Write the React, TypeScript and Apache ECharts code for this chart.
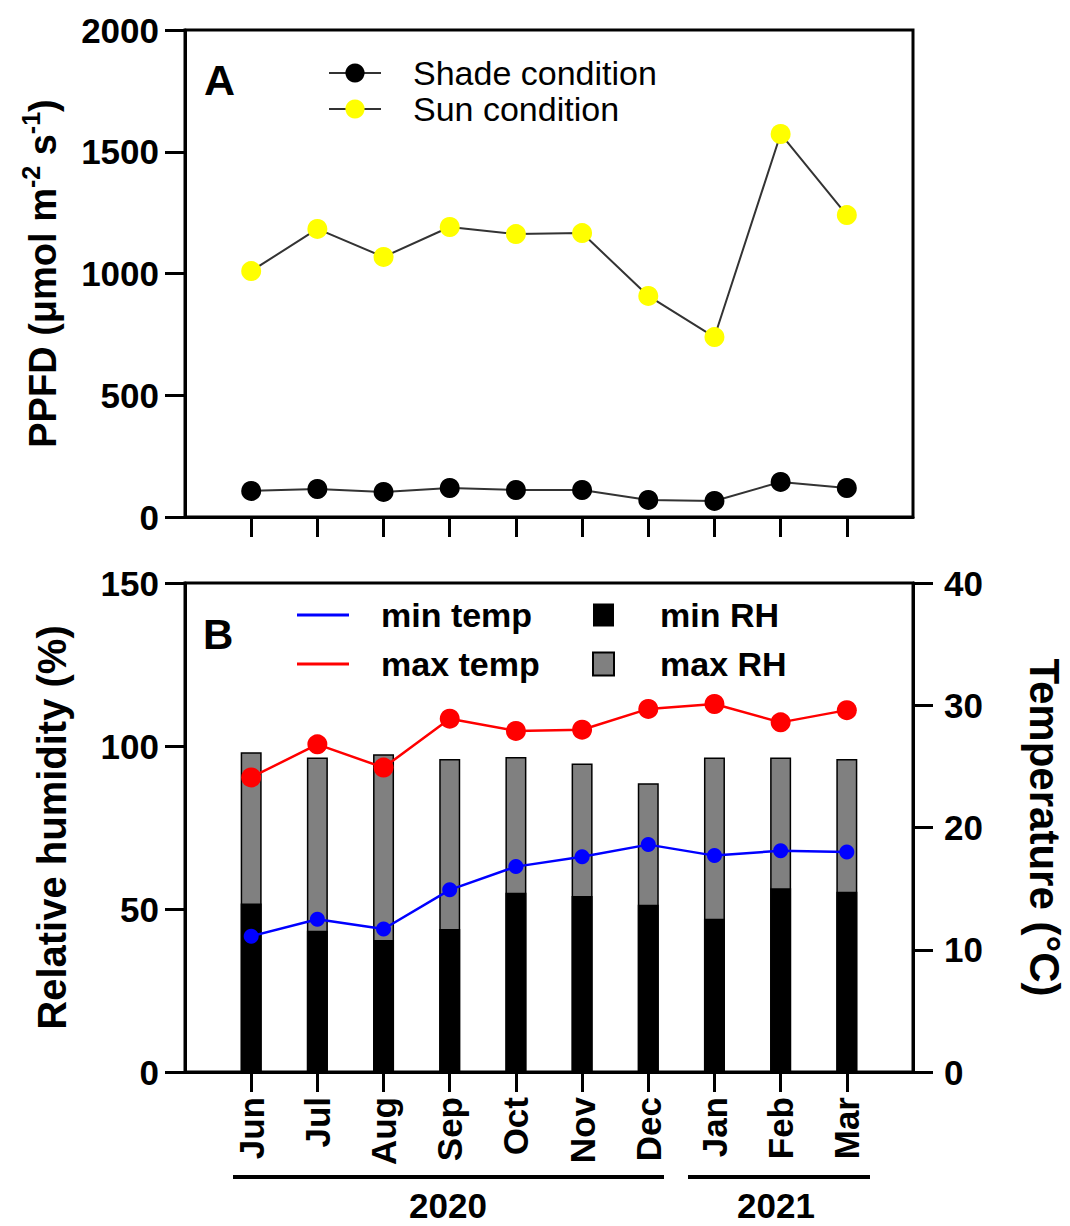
import React, { useEffect, useRef } from 'react';
import * as echarts from 'echarts';

const months = ['Jun', 'Jul', 'Aug', 'Sep', 'Oct', 'Nov', 'Dec', 'Jan', 'Feb', 'Mar'];
const shade = [107, 115, 103, 119, 111, 111, 70, 66, 144, 119];
const sun = [1010, 1183, 1068, 1191, 1162, 1166, 908, 739, 1573, 1240];
const minRH = [51.7, 43.3, 40.5, 43.9, 55.0, 54.0, 51.3, 47.0, 56.4, 55.3];
const maxRH = [98.1, 96.5, 97.5, 96.0, 96.6, 94.6, 88.6, 96.5, 96.5, 96.0];
const minTemp = [11.1, 12.5, 11.7, 14.9, 16.8, 17.6, 18.6, 17.7, 18.1, 18.0];
const maxTemp = [24.1, 26.8, 24.9, 28.9, 27.9, 28.0, 29.7, 30.1, 28.6, 29.6];
const years = ['2020', '2021'];

const FONT = 'Arial, "Liberation Sans", sans-serif';
const idx = months.map((_, i) => i);
const pairs = (arr: number[]) => arr.map((v, i) => [i, v]);

const axisLine = { show: true, onZero: false, lineStyle: { color: '#000', width: 3 } };
const axisTick = { show: true, length: 20, lineStyle: { color: '#000', width: 3 } };
const tickLabel = { fontSize: 35, fontWeight: 'bold', color: '#000', fontFamily: FONT, formatter: (v: number) => String(v) };

export default function App() {
  const ref = useRef<HTMLDivElement>(null);
  useEffect(() => {
    if (!ref.current) return;
    const chart = echarts.init(ref.current, null, { renderer: 'svg' });
    const xBase = (gi: number) => ({
      type: 'value',
      gridIndex: gi,
      min: -1,
      max: 10,
      interval: 1,
      axisLine,
      axisTick: { ...axisTick, customValues: idx },
      splitLine: { show: false },
    });
    chart.setOption({
      animation: false,
      backgroundColor: '#fff',
      grid: [
        { left: 185, top: 30, width: 728, height: 487, show: true, borderColor: '#000', borderWidth: 3, backgroundColor: 'transparent', outerBoundsMode: 'none', containLabel: false },
        { left: 185, top: 583, width: 728, height: 489, show: true, borderColor: '#000', borderWidth: 3, backgroundColor: 'transparent', outerBoundsMode: 'none', containLabel: false },
      ],
      xAxis: [
        { ...xBase(0), axisLabel: { show: false } },
        {
          ...xBase(1),
          axisLabel: {
            ...tickLabel,
            customValues: idx,
            rotate: 90,
            margin: 25,
            formatter: (v: number) => months[Math.round(v)] ?? '',
          },
        },
      ],
      yAxis: [
        {
          type: 'value', gridIndex: 0, min: 0, max: 2000, interval: 500,
          axisLine, axisTick, splitLine: { show: false },
          axisLabel: { ...tickLabel, margin: 26 },
          name: '{a|PPFD (μmol m}{s|-2}{a| s}{s|-1}{a|)}',
          nameLocation: 'middle', nameGap: 123, nameRotate: 90,
          nameTextStyle: {
            rich: {
              a: { fontSize: 38, fontWeight: 'bold', fontFamily: FONT, color: '#000', lineHeight: 44, verticalAlign: 'bottom' },
              s: { fontSize: 25, fontWeight: 'bold', fontFamily: FONT, color: '#000', lineHeight: 25, verticalAlign: 'top' },
            },
          },
        },
        {
          type: 'value', gridIndex: 1, min: 0, max: 150, interval: 50,
          axisLine, axisTick, splitLine: { show: false },
          axisLabel: { ...tickLabel, margin: 26 },
          name: 'Relative humidity (%)',
          nameLocation: 'middle', nameGap: 113, nameRotate: 90,
          nameTextStyle: { fontSize: 40, fontWeight: 'bold', fontFamily: FONT, color: '#000' },
        },
        {
          type: 'value', gridIndex: 1, position: 'right', min: 0, max: 40, interval: 10,
          axisLine, axisTick, splitLine: { show: false },
          axisLabel: { ...tickLabel, margin: 31 },
          name: 'Temperature (°C)',
          nameLocation: 'middle', nameGap: 110, nameRotate: -90,
          nameTextStyle: { fontSize: 42, fontWeight: 'bold', fontFamily: FONT, color: '#000' },
        },
      ],
      legend: [
        {
          data: ['Shade condition', 'Sun condition'],
          orient: 'vertical', left: 328, top: 56, padding: 0,
          itemWidth: 52, itemHeight: 24, itemGap: 2, selectedMode: false,
          textStyle: { fontSize: 34, fontFamily: FONT, color: '#000', padding: [0, 0, 0, 27] },
        },
        {
          data: [{ name: 'min temp', icon: 'rect' }, { name: 'max temp', icon: 'rect' }],
          orient: 'vertical', left: 297, top: 598, padding: 0,
          itemWidth: 52, itemHeight: 3, itemGap: 15, selectedMode: false,
          textStyle: { fontSize: 34, fontWeight: 'bold', fontFamily: FONT, color: '#000', padding: [0, 0, 0, 27] },
        },
        {
          data: [{ name: 'min RH', icon: 'rect' }, { name: 'max RH', icon: 'rect' }],
          orient: 'vertical', left: 592, top: 598, padding: 0,
          itemWidth: 21, itemHeight: 23, itemGap: 15, selectedMode: false,
          textStyle: { fontSize: 34, fontWeight: 'bold', fontFamily: FONT, color: '#000', padding: [0, 0, 0, 41] },
        },
      ],
      graphic: [
        { type: 'text', x: 204, y: 80, style: { text: 'A', fontSize: 43, fontWeight: 'bold', fontFamily: FONT, fill: '#000', verticalAlign: 'middle' } },
        { type: 'text', x: 203, y: 634, style: { text: 'B', fontSize: 42, fontWeight: 'bold', fontFamily: FONT, fill: '#000', verticalAlign: 'middle' } },
        { type: 'line', shape: { x1: 233, y1: 1177, x2: 664, y2: 1177 }, style: { stroke: '#000', lineWidth: 4 } },
        { type: 'line', shape: { x1: 688, y1: 1177, x2: 870, y2: 1177 }, style: { stroke: '#000', lineWidth: 4 } },
        { type: 'text', x: 448, y: 1205, style: { text: years[0], fontSize: 35, fontWeight: 'bold', fontFamily: FONT, fill: '#000', align: 'center', verticalAlign: 'middle' } },
        { type: 'text', x: 776, y: 1205, style: { text: years[1], fontSize: 35, fontWeight: 'bold', fontFamily: FONT, fill: '#000', align: 'center', verticalAlign: 'middle' } },
      ],
      series: [
        {
          name: 'Shade condition', type: 'line', xAxisIndex: 0, yAxisIndex: 0,
          data: pairs(shade), symbol: 'circle', symbolSize: 20,
          lineStyle: { color: '#333', width: 2 }, itemStyle: { color: '#000' },
        },
        {
          name: 'Sun condition', type: 'line', xAxisIndex: 0, yAxisIndex: 0,
          data: pairs(sun), symbol: 'circle', symbolSize: 20,
          lineStyle: { color: '#333', width: 2 }, itemStyle: { color: '#ffff00' },
        },
        {
          name: 'max RH', type: 'bar', xAxisIndex: 1, yAxisIndex: 1,
          data: pairs(maxRH), barWidth: 21, barGap: '-100%',
          itemStyle: { color: '#808080', borderColor: '#000', borderWidth: 1.5 },
        },
        {
          name: 'min RH', type: 'bar', xAxisIndex: 1, yAxisIndex: 1,
          data: pairs(minRH), barWidth: 21, barGap: '-100%',
          itemStyle: { color: '#000' },
        },
        {
          name: 'min temp', type: 'line', xAxisIndex: 1, yAxisIndex: 2,
          data: pairs(minTemp), symbol: 'circle', symbolSize: 15, z: 5,
          lineStyle: { color: '#0000ff', width: 2.5 }, itemStyle: { color: '#0000ff' },
        },
        {
          name: 'max temp', type: 'line', xAxisIndex: 1, yAxisIndex: 2,
          data: pairs(maxTemp), symbol: 'circle', symbolSize: 20, z: 5,
          lineStyle: { color: '#ff0000', width: 2.5 }, itemStyle: { color: '#ff0000' },
        },
      ],
    });
    return () => chart.dispose();
  }, []);
  return <div ref={ref} style={{ position: 'absolute', left: 0, top: 0, width: 1070, height: 1226 }} />;
}
